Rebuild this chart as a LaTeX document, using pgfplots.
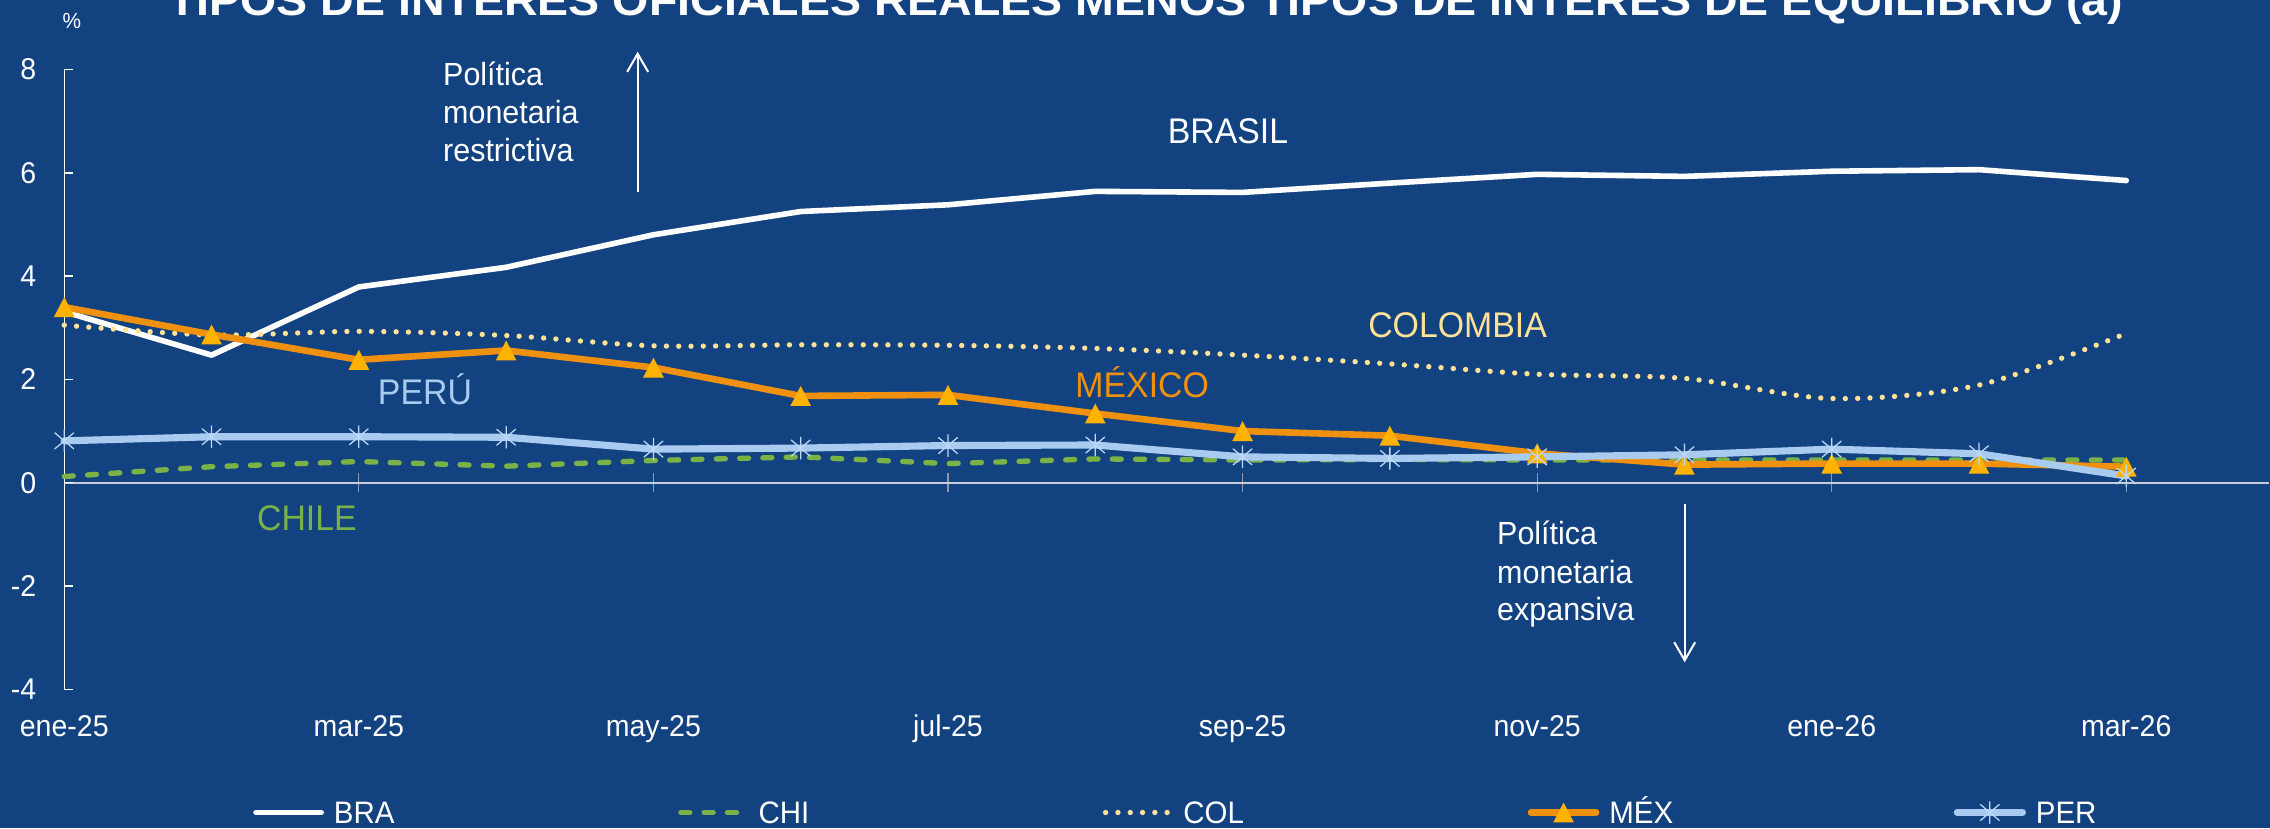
\documentclass[border=0pt]{standalone}
\usepackage{fontspec}
\setmainfont{Liberation Sans}[FakeStretch=0.95]
\usepackage{pgfplots}
\pgfplotsset{compat=1.18}
\usetikzlibrary{arrows.meta}
\definecolor{bg}{HTML}{134281}
\definecolor{chig}{HTML}{7AB248}
\definecolor{colc}{HTML}{FFE296}
\definecolor{mexl}{HTML}{F0900F}
\definecolor{mexm}{HTML}{FFB300}
\definecolor{perc}{HTML}{A9CBF0}
\definecolor{perm}{HTML}{BCD8F6}
\definecolor{zeroc}{HTML}{C8CDD8}
\definecolor{tickc}{HTML}{8C9AB0}

\pgfdeclareplotmark{extri}{%
  \pgfpathmoveto{\pgfqpoint{0pt}{1.38mm}}%
  \pgfpathlineto{\pgfqpoint{1.43mm}{-1.38mm}}%
  \pgfpathlineto{\pgfqpoint{-1.43mm}{-1.38mm}}%
  \pgfpathclose\pgfusepathqfill}
\pgfdeclareplotmark{exstar}{%
  \pgfpathmoveto{\pgfqpoint{0pt}{1.5mm}}\pgfpathlineto{\pgfqpoint{0pt}{-1.5mm}}%
  \pgfpathmoveto{\pgfqpoint{-1.3mm}{1.1mm}}\pgfpathlineto{\pgfqpoint{1.3mm}{-1.1mm}}%
  \pgfpathmoveto{\pgfqpoint{-1.3mm}{-1.1mm}}\pgfpathlineto{\pgfqpoint{1.3mm}{1.1mm}}%
  \pgfusepathqstroke}

\pgfplotstableread{
x y
0 3.31
1 2.47
2 3.79
3 4.17
4 4.80
5 5.25
6 5.38
7 5.64
8 5.62
9 5.80
10 5.97
11 5.93
12 6.03
13 6.06
14 5.85
}\bra
\pgfplotstableread{
x y
0 0.12
1 0.31
2 0.41
3 0.32
4 0.43
5 0.50
6 0.37
7 0.46
8 0.44
9 0.45
10 0.44
11 0.44
12 0.44
13 0.44
14 0.44
}\chi
\pgfplotstableread{
x y
0 3.05
1 2.86
2 2.93
3 2.85
4 2.65
5 2.67
6 2.66
7 2.60
8 2.47
9 2.30
10 2.10
11 2.02
12 1.63
13 1.89
14 2.89
}\col
\pgfplotstableread{
x y
0 3.40
1 2.87
2 2.38
3 2.56
4 2.23
5 1.68
6 1.70
7 1.34
8 1.00
9 0.91
10 0.57
11 0.35
12 0.37
13 0.37
14 0.31
}\mex
\pgfplotstableread{
x y
0 0.81
1 0.89
2 0.89
3 0.88
4 0.65
5 0.67
6 0.72
7 0.73
8 0.50
9 0.47
10 0.50
11 0.54
12 0.65
13 0.56
14 0.13
}\per

\begin{document}
\begin{tikzpicture}[x=1mm,y=1mm]
\useasboundingbox (-8.88,-19.16) rectangle (304.72,95.23);
\fill[bg] (-8.88,-19.16) rectangle (304.72,95.23);
\clip (-8.88,-19.16) rectangle (304.72,95.23);

% zero line with crossing ticks
\begin{axis}[at={(0,0)}, anchor=south west, scale only axis,
  width=304.6mm, height=85.63mm,
  xmin=0, xmax=14.97, ymin=-4, ymax=8,
  axis y line=none, axis x line=middle,
  x axis line style={-, draw=zeroc, line width=0.7pt},
  xtick={2,4,...,14}, xticklabels={,,,,,,,}, ytick=\empty,
  xticklabel style={text opacity=0},
  tick align=center, major tick length=2.6mm,
  x tick style={draw=tickc, line width=0.5pt}]
\end{axis}

\begin{axis}[at={(0,0)}, anchor=south west, scale only axis,
  width=304.6mm, height=85.63mm,
  xmin=0, xmax=14.97, ymin=-4, ymax=8,
  axis y line=left, axis x line=bottom,
  y axis line style={-, white, line width=0.6pt},
  x axis line style={draw=none},
  xtick={0,2,...,14},
  xticklabels={ene-25,mar-25,may-25,jul-25,sep-25,nov-25,ene-26,mar-26},
  x tick style={draw=none},
  ytick={-4,-2,...,8}, yticklabels={-4,-2,0,2,4,6,8},
  y tick style={white, line width=0.6pt},
  tick align=inside, major tick length=1.24mm,
  ticklabel style={text=white, font=\fontsize{11.8}{14}\selectfont},
  yticklabel style={inner xsep=0pt, xshift=-3.8mm},
  xticklabel style={anchor=base, yshift=-6.55mm},
  clip=false,
  legend columns=5,
  legend cell align=left,
  legend style={at={(axis description cs:0.08569,-0.1987)}, anchor=west,
    draw=none, fill=none, inner sep=0pt, outer sep=0pt,
    font=\fontsize{12.2}{14}\selectfont, text=white,
    nodes={inner sep=0pt, text height=3mm, text depth=0pt},
    /tikz/every even column/.append style={column sep=0pt},
    /tikz/every odd column/.append style={column sep=0pt}},
  legend image code/.code={\draw[mark repeat=2,mark phase=2,#1] plot coordinates {(0mm,0mm) (4.5mm,0mm) (9mm,0mm)};},
  every axis plot/.append style={line cap=round, line join=round}
]
\addplot[white, line width=2.2pt] table {\bra};
\addlegendentry{\makebox[48.94mm][l]{\hspace{1.37mm}BRA}}
\addplot[chig, line width=2.1pt, dash pattern=on 1.24mm off 1.98mm] table {\chi};
\addlegendentry{\makebox[48.94mm][l]{\hspace{1.37mm}CHI}}
\addplot[colc, line width=2.1pt, dash pattern=on 0pt off 1.7mm, smooth] table {\col};
\addlegendentry{\makebox[48.94mm][l]{\hspace{1.37mm}COL}}
\addplot[mexl, line width=2.6pt, mark=extri, mark options={solid, fill=mexm, draw=mexm}] table {\mex};
\addlegendentry{\makebox[48.94mm][l]{\hspace{1.37mm}MÉX}}
\addplot[perc, line width=2.8pt, mark=exstar, mark options={solid, draw=perm, line width=0.5pt}] table {\per};
\addlegendentry{\makebox[48.94mm][l]{\hspace{1.37mm}PER}}
\end{axis}

% title and unit
\node[anchor=base, text=white, inner sep=0pt, font=\fontsize{17}{20}\selectfont\bfseries] at (149.4,93.15)
  {\resizebox{270.1mm}{\height}{TIPOS DE INTERÉS OFICIALES REALES MENOS TIPOS DE INTERÉS DE EQUILIBRIO (a)}};
\node[anchor=base, text=white, inner sep=0pt, font=\fontsize{8.6}{10}\selectfont] at (1.06,91.35) {\%};

% annotations
\begin{scope}[every node/.style={anchor=base west, inner sep=0pt, text=white, font=\fontsize{12.6}{15}\selectfont}]
\node at (52.28,83.48) {Política};
\node at (52.28,78.10) {monetaria};
\node at (52.28,72.89) {restrictiva};
\node at (197.89,19.94) {Política};
\node at (197.89,14.64) {monetaria};
\node at (197.89,9.48) {expansiva};
\end{scope}
\draw[white, line width=0.8pt, -{Straight Barb[length=2.5mm,width=2.9mm]}] (79.21,68.74) -- (79.21,88.08);
\draw[white, line width=0.8pt, -{Straight Barb[length=2.5mm,width=2.9mm]}] (223.86,25.60) -- (223.86,3.73);

% series labels
\begin{scope}[every node/.style={anchor=base, inner sep=0pt, font=\fontsize{14}{16}\selectfont}]
\node[text=white] at (160.77,75.43) {BRASIL};
\node[text=colc] at (192.48,48.63) {COLOMBIA};
\node[text=mexl] at (148.91,40.34) {MÉXICO};
\node[text=perc] at (49.83,39.28) {PERÚ};
\node[text=chig] at (33.52,21.9) {CHILE};
\end{scope}
\end{tikzpicture}
\end{document}
